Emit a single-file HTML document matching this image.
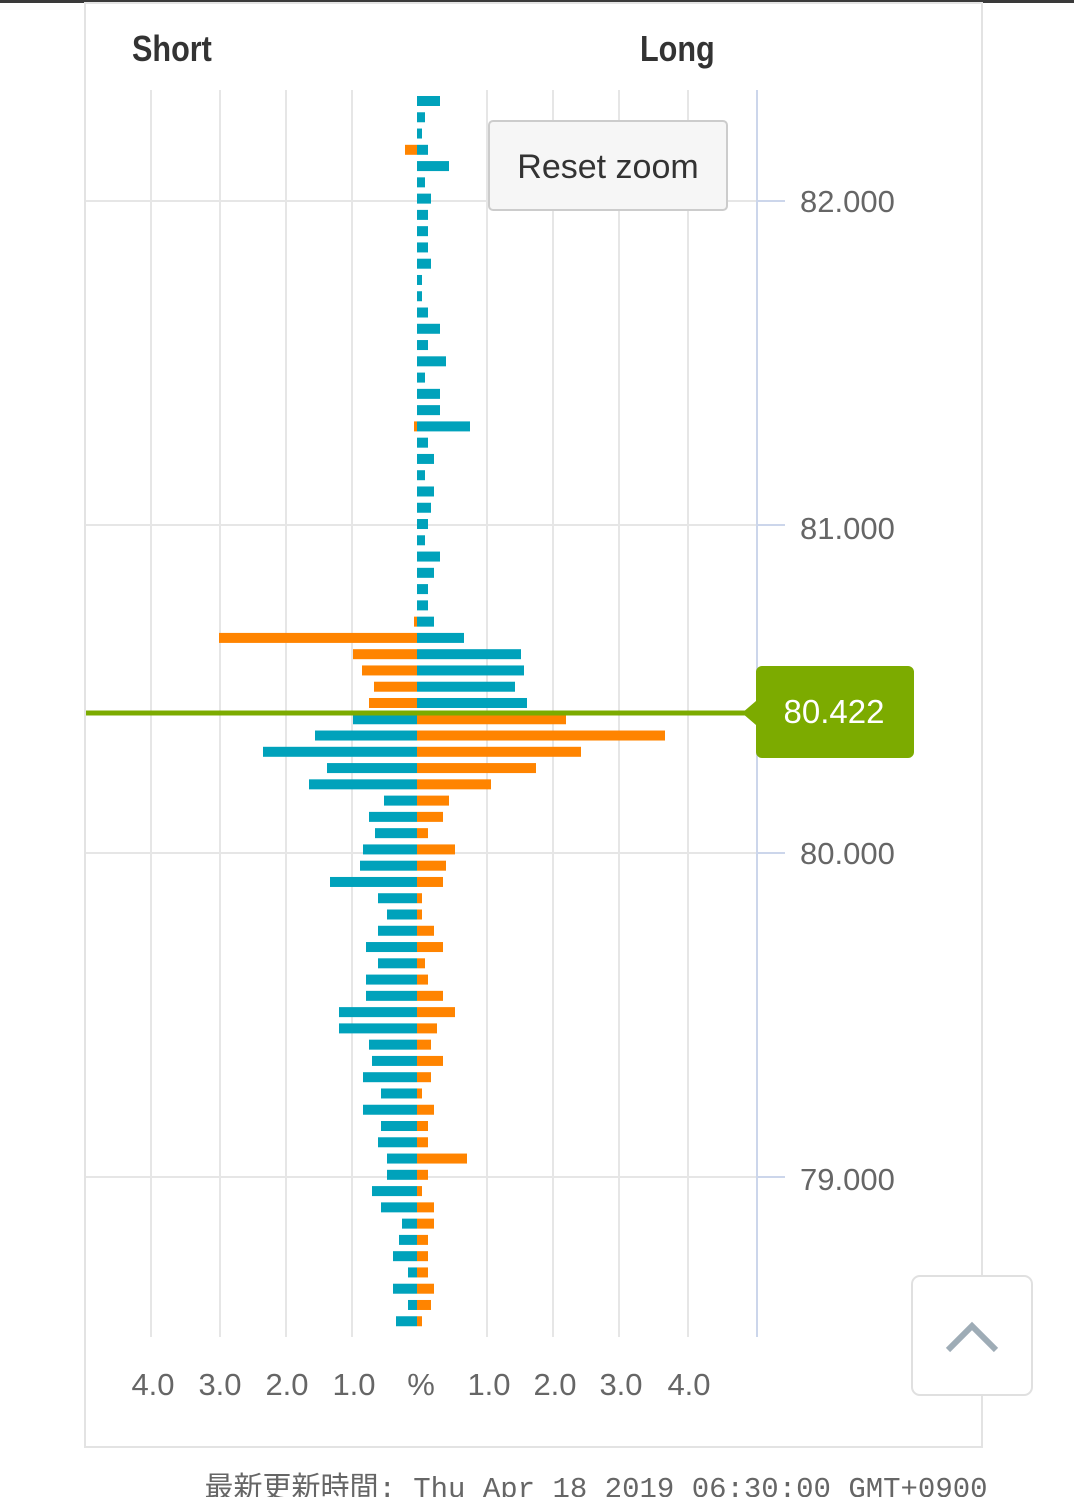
<!DOCTYPE html>
<html><head><meta charset="utf-8"><style>
html,body{margin:0;padding:0;background:#fff;width:1074px;height:1497px;overflow:hidden}
svg{display:block}
</style></head><body>
<svg id="s" width="1074" height="1497" xmlns="http://www.w3.org/2000/svg" font-family="Liberation Sans, sans-serif">
<rect x="0" y="0" width="1074" height="3" fill="#3a3a3a"/>
<rect x="85" y="3" width="897" height="1444" fill="none" stroke="#e3e3e3" stroke-width="2"/>
<g stroke="#e6e6e6" stroke-width="2">
<line x1="151" y1="90" x2="151" y2="1337"/><line x1="220" y1="90" x2="220" y2="1337"/>
<line x1="286" y1="90" x2="286" y2="1337"/><line x1="352" y1="90" x2="352" y2="1337"/>
<line x1="487" y1="90" x2="487" y2="1337"/><line x1="553" y1="90" x2="553" y2="1337"/>
<line x1="619" y1="90" x2="619" y2="1337"/><line x1="688" y1="90" x2="688" y2="1337"/>
<line x1="86" y1="201" x2="757" y2="201"/><line x1="86" y1="525" x2="757" y2="525"/>
<line x1="86" y1="853" x2="757" y2="853"/><line x1="86" y1="1177" x2="757" y2="1177"/>
</g>
<g stroke="#ccd6eb" stroke-width="2">
<line x1="757" y1="90" x2="757" y2="1337"/>
<line x1="757" y1="201" x2="785" y2="201"/><line x1="757" y1="525" x2="785" y2="525"/>
<line x1="757" y1="853" x2="785" y2="853"/><line x1="757" y1="1177" x2="785" y2="1177"/>
</g>
<g fill="#666" font-size="31">
<text x="800" y="212">82.000</text><text x="800" y="539">81.000</text>
<text x="800" y="864">80.000</text><text x="800" y="1190">79.000</text>
</g>
<g id="bars"></g>
<line x1="86" y1="713" x2="745" y2="713" stroke="#7cab00" stroke-width="5"/>
<path d="M762 666 H908 a6 6 0 0 1 6 6 V752 a6 6 0 0 1 -6 6 H762 a6 6 0 0 1 -6 -6 V725 L742 713 L756 701 V672 a6 6 0 0 1 6 -6Z" fill="#7cab00"/>
<text x="834" y="723" fill="#fff" font-size="33" text-anchor="middle">80.422</text>
<rect x="489" y="121" width="238" height="89" rx="4" fill="#f6f6f6" stroke="#cccccc" stroke-width="2"/>
<text x="608" y="178" fill="#333" font-size="34" text-anchor="middle">Reset zoom</text>
<text x="132" y="61" fill="#333" font-size="36" font-weight="bold" transform="translate(132,0) scale(0.85,1) translate(-132,0)">Short</text>
<text x="640" y="61" fill="#333" font-size="36" font-weight="bold" transform="translate(640,0) scale(0.85,1) translate(-640,0)">Long</text>
<g fill="#666" font-size="31" text-anchor="middle">
<text x="153" y="1395">4.0</text><text x="220" y="1395">3.0</text><text x="287" y="1395">2.0</text>
<text x="354" y="1395">1.0</text><text x="421" y="1395">%</text><text x="489" y="1395">1.0</text>
<text x="555" y="1395">2.0</text><text x="621" y="1395">3.0</text><text x="689" y="1395">4.0</text>
</g>
<text x="596" y="1497" fill="#666" font-size="29" text-anchor="middle" font-family="Liberation Mono, Noto Sans CJK JP, monospace">最新更新時間: Thu Apr 18 2019 06:30:00 GMT+0900</text>
<rect x="912" y="1276" width="120" height="119" rx="8" fill="#fff" stroke="#e0e0e0" stroke-width="2"/>
<polyline points="948,1350 972,1326 996,1350" fill="none" stroke="#9eacb6" stroke-width="6"/>
</svg>
<script>
(function(){
var R=[440,425,422,428,449,425,431,428,428,428,431,422,422,428,440,428,446,425,440,440,470,428,434,425,434,431,428,425,440,434,428,428,434,464,521,524,515,527,566,665,581,536,491,449,443,428,455,446,443,422,422,434,443,425,428,443,455,437,431,443,431,422,434,428,428,467,428,422,434,434,428,428,428,434,431,422];
var L=[417,417,417,405,417,417,417,417,417,417,417,417,417,417,417,417,417,417,417,417,414,417,417,417,417,417,417,417,417,417,417,417,414,219,353,362,374,369,353,315,263,327,309,384,369,375,363,360,330,378,387,378,366,378,366,366,339,339,369,372,363,381,363,381,378,387,387,372,381,402,399,393,408,393,408,396];
var g=document.getElementById('bars'),h='',T='#00a2bb',O='#ff8400',C=417;
for(var i=0;i<76;i++){var y=101+i*16.27-5;var isTop=i<38;
var lc=isTop?O:T,rc=isTop?T:O;
if(L[i]<C)h+='<rect x="'+L[i]+'" y="'+y+'" width="'+(C-L[i])+'" height="10" fill="'+lc+'"/>';
if(R[i]>C)h+='<rect x="'+C+'" y="'+y+'" width="'+(R[i]-C)+'" height="10" fill="'+rc+'"/>';}
g.innerHTML=h;
})();
</script>
</body></html>
